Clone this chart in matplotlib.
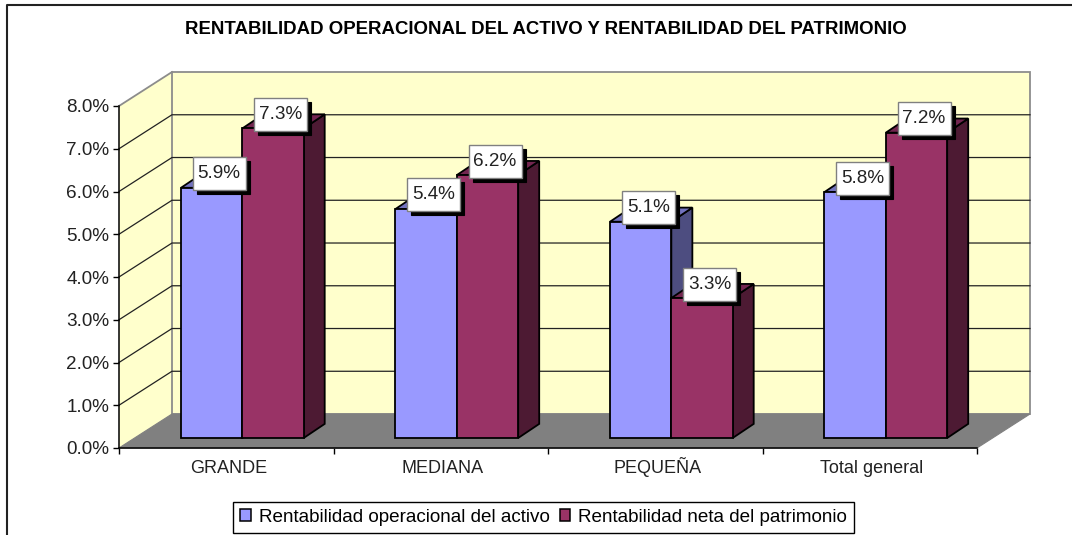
import numpy as np
import matplotlib
matplotlib.use("Agg")
import matplotlib.pyplot as plt
from matplotlib.patches import Polygon, Patch, Rectangle
from matplotlib.transforms import Affine2D

plt.rcParams['font.family'] = ['Liberation Sans', 'DejaVu Sans']

categories = ["GRANDE", "MEDIANA", "PEQUEÑA", "Total general"]
activo = [5.9, 5.4, 5.1, 5.8]
patrimonio = [7.3, 6.2, 3.3, 7.2]
yticks = [0, 1, 2, 3, 4, 5, 6, 7, 8]
series_names = ["Rentabilidad operacional del activo", "Rentabilidad neta del patrimonio"]
title = "RENTABILIDAD OPERACIONAL DEL ACTIVO Y RENTABILIDAD DEL PATRIMONIO"

W, H = 1072, 535
fig = plt.figure(figsize=(W / 100, H / 100), dpi=100)
ax = fig.add_axes([119 / W, 1 - 448 / H, (977 - 119) / W, (448 - 106) / H])
ax.set_xlim(0, 4)
ax.set_ylim(0, 8)
ax.patch.set_alpha(0)

# profundidad del efecto 3D, en unidades de los ejes
wall_dx, wall_dy = 0.247, 0.795
bar_off = 0.289
bar_w = 0.286
base = 0.234
dep_x, dep_y = 0.098, 0.33
bar_scale = 0.992  # las barras estan mas al fondo que el eje

# paredes y piso
ax.add_patch(Polygon([(0, 0), (wall_dx, wall_dy), (wall_dx, 8 + wall_dy), (0, 8)],
                     fc="#FFFFCC", ec="none", zorder=1, clip_on=False))
ax.add_patch(Polygon([(wall_dx, wall_dy), (4 + wall_dx, wall_dy), (4 + wall_dx, 8 + wall_dy),
                      (wall_dx, 8 + wall_dy)], fc="#FFFFCC", ec="#8C8C8C", lw=1.3, zorder=1, clip_on=False))
ax.add_patch(Polygon([(0, 0), (wall_dx, wall_dy), (4 + wall_dx, wall_dy), (4, 0)],
                     fc="#808080", ec="#808080", lw=0.8, zorder=2, clip_on=False))
ax.plot([0, wall_dx], [8, 8 + wall_dy], color="#8C8C8C", lw=1.3, zorder=2, clip_on=False)

for g in yticks[1:-1]:
    ax.plot([0, wall_dx, 4 + wall_dx], [g, g + wall_dy, g + wall_dy], color="#222222", lw=0.9,
            zorder=2, clip_on=False)


def bar3d(x, v, front, side, top):
    y0 = base
    y1 = base + v * bar_scale
    ax.add_patch(Polygon([(x + bar_w, y0), (x + bar_w + dep_x, y0 + dep_y),
                          (x + bar_w + dep_x, y1 + dep_y), (x + bar_w, y1)],
                         fc=side, ec="black", lw=1.3, zorder=3, clip_on=False))
    ax.add_patch(Polygon([(x, y1), (x + dep_x, y1 + dep_y), (x + bar_w + dep_x, y1 + dep_y), (x + bar_w, y1)],
                         fc=top, ec="black", lw=1.3, zorder=3, clip_on=False))
    ax.add_patch(Polygon([(x, y0), (x + bar_w, y0), (x + bar_w, y1), (x, y1)],
                         fc=front, ec="black", lw=1.3, zorder=4, clip_on=False))


def value_label(x, v):
    # caja blanca de 53x33 px con sombra negra, anclada a la punta de la barra
    cx = x + bar_w / 2
    cy = base + v * bar_scale
    px, py = ax.transData.transform((cx, cy))
    tr = Affine2D().translate(px + 7.5, py + 14)
    ax.add_patch(Rectangle((-22.5, -20.5), 53, 33, transform=tr, fc="black", ec="black", lw=0.8,
                           zorder=8, clip_on=False))
    ax.add_patch(Rectangle((-26.5, -16.5), 53, 33, transform=tr, fc="white", ec="#808080", lw=1.0,
                           zorder=9, clip_on=False))
    ax.annotate("%.1f%%" % v, (cx, cy), xytext=(7.5 * 0.72, 14 * 0.72), textcoords="offset points",
                ha="center", va="center", fontsize=13.6, color="#222222", zorder=10, annotation_clip=False)


for i in range(len(categories)):
    bar3d(i + bar_off, activo[i], "#9999FF", "#4D4D80", "#7373BF")
    bar3d(i + bar_off + bar_w, patrimonio[i], "#993366", "#4D1A33", "#732650")

for i in range(len(categories)):
    value_label(i + bar_off, activo[i])
    value_label(i + bar_off + bar_w, patrimonio[i])

# ejes
for s in ["top", "right"]:
    ax.spines[s].set_visible(False)
for s in ["left", "bottom"]:
    ax.spines[s].set_linewidth(1.1)
    ax.spines[s].set_zorder(6)
ax.set_yticks(yticks)
ax.set_yticklabels(["%.1f%%" % t for t in yticks], fontsize=13.6, color="#222222")
ax.tick_params(axis="y", length=4, width=1, pad=3)
ax.set_xticks(np.arange(5))
ax.set_xticklabels([])
ax.set_xticks(np.arange(4) + 0.51, categories, minor=True, fontsize=13, color="#222222", va="baseline")
ax.tick_params(axis="x", which="major", length=4, width=1)
ax.tick_params(axis="x", which="minor", length=0, pad=17.7)

# marco del grafico
fig.add_artist(plt.Line2D([7 / W, 7 / W, 1], [0, 1 - 4.5 / H, 1 - 4.5 / H], color="#222222", lw=1.5))

fig.text(546 / W, 1 - 30 / H, title, ha="center", va="center", fontsize=13.4, fontweight="bold", color="black")

handles = [Patch(fc="#9999FF", ec="black", lw=1.1), Patch(fc="#993366", ec="black", lw=1.1)]
fig.legend(handles, series_names, loc="center", bbox_to_anchor=(543.5 / W, 1 - 517.5 / H), ncol=2,
           fontsize=13.6, frameon=True, fancybox=False, edgecolor="black", framealpha=1,
           handlelength=0.58, handleheight=0.58, handletextpad=0.42, columnspacing=0.53, borderpad=0.37,
           borderaxespad=0)

fig.savefig("out.png", dpi=100)
